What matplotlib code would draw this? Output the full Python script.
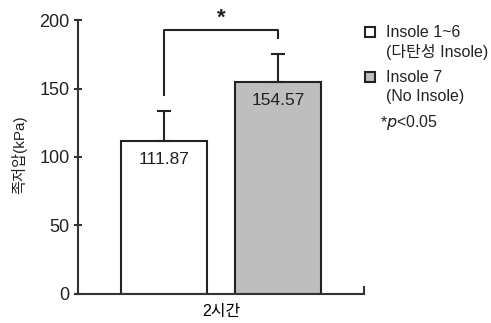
import matplotlib
matplotlib.use("Agg")
import matplotlib.pyplot as plt
from matplotlib.patches import Rectangle

plt.rcParams["font.family"] = ["Liberation Sans", "Noto Sans CJK KR"]

# data
groups = ["Insole 1~6\n(다탄성 Insole)", "Insole 7\n(No Insole)"]
means = [111.87, 154.57]
errors = [21.7, 20.6]
colors = ["white", "#bebebe"]
category = "2시간"
y_ticks = [0, 50, 100, 150, 200]

fig = plt.figure(figsize=(4.91, 3.23), dpi=100)
ax = fig.add_axes([0.159, 0.09, 0.5825, 0.848])

xpos = [0.3, 0.7]
ax.bar(xpos, means, width=0.3, color=colors, edgecolor="#222222", linewidth=1.5, zorder=2)
ax.errorbar(xpos, means, yerr=[[0, 0], errors], fmt="none", ecolor="#222222",
            elinewidth=1.5, capsize=5, capthick=1.5, zorder=3)

for x, m in zip(xpos, means):
    ax.text(x, m - 8, f"{m:.2f}", ha="center", va="top", fontsize=12.5, color="#222222")

# significance bracket
top1 = means[0] + errors[0] + 12
top2 = means[1] + errors[1] + 11.5
ybr = 192.5
ax.plot([xpos[0], xpos[0], xpos[1], xpos[1]], [top1, ybr, ybr, top2],
        color="#222222", lw=1.5, clip_on=False)
ax.text(0.5, ybr + 1, "*", ha="center", va="bottom", fontsize=16, fontweight="bold",
        color="#222222")

ax.set_xlim(0, 1)
ax.set_ylim(0, 200)
ax.set_yticks(y_ticks)
ax.set_xticks([0.5])
ax.set_xticklabels([category], fontsize=11.5)
ax.tick_params(axis="x", length=0, pad=7)
ax.tick_params(axis="y", direction="inout", length=6, width=1.5, labelsize=13, pad=3,
               color="#333333", labelcolor="#222222")
ax.set_xticks([1.0], minor=True)
ax.tick_params(axis="x", which="minor", direction="in", length=6, width=1.5, color="#333333")
for s in ["top", "right"]:
    ax.spines[s].set_visible(False)
for s in ["left", "bottom"]:
    ax.spines[s].set_linewidth(1.5)
    ax.spines[s].set_color("#333333")

# y label placed by hand
fig.text(19 / 491, 1 - 155 / 323, "족저압(kPa)", rotation=90, ha="center", va="center",
         fontsize=11, color="#222222")

# legend drawn by hand
sq_w, sq_h = 10 / 491, 10 / 323
for i, (lab, c) in enumerate(zip(groups, colors)):
    yc = 1 - (32 + i * 45) / 323
    fig.patches.append(Rectangle((365 / 491, yc - sq_h / 2), sq_w, sq_h,
                                 transform=fig.transFigure, facecolor=c,
                                 edgecolor="#222222", linewidth=1.5))
    fig.text(386 / 491, yc + 7 / 323, lab, ha="left", va="top", fontsize=11.5,
             linespacing=1.3, color="#222222")
fig.text(381 / 491, 1 - 123 / 323, "*", ha="left", va="center", fontsize=11.5, color="#222222")
fig.text(386 / 491, 1 - 123 / 323, "$\\it{p}$<0.05", ha="left", va="center", fontsize=11.5,
         color="#222222")

fig.savefig("out.png", dpi=100)
